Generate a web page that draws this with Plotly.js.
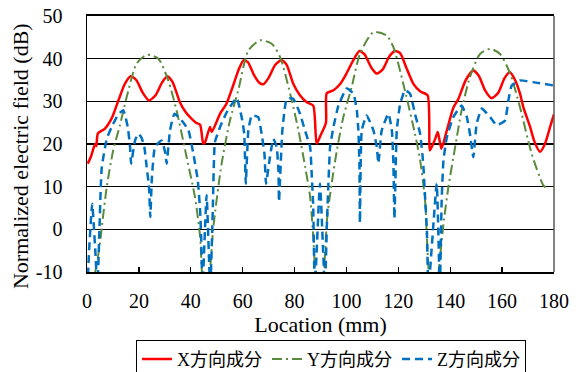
<!DOCTYPE html>
<html>
<head>
<meta charset="utf-8">
<script src="https://cdn.plot.ly/plotly-3.0.1.min.js"></script>
<style>html,body{margin:0;padding:0;background:#fff;}#chart{width:582px;height:372px;}</style>
</head>
<body>
<div id="chart"></div>
<script>
// ---- data ----
const seriesNames = ["X方向成分", "Y方向成分", "Z方向成分"];

const xLocX = [0.3,1.5,2.5,3.2,3.6,4.2,6.9,9.5,12.1,14.5,16.8,19,21.5,23.9,26.5,29,31,33,35.8,38,39.7,42,43.6,44.8,45.5,47.4,48.1,51.3,53.8,56.5,58.5,60.3,62,64.5,66.5,68,70,72.5,75,77,79.5,82,84.7,87.2,88.5,90,92.1,92.4,95,97.5,100,102.5,105,107,109.5,111.7,114,116.5,118.7,120.7,123,125.8,128.5,131.3,132.2,134.2,135.2,136.6,138.7,141.2,143.1,146,148.9,151,153.5,156,158.5,161,163,165,166.9,168.2,170.8,172.5,174.6,176.5,178.5,180];
const xVal = [15.4,17,19,20,19.5,22.5,23.6,26,30.2,34,35.9,35,32,30.2,31.5,34.5,35.9,34.5,29.8,27.5,26.3,25,24.5,20.1,20.4,24,22.8,27.1,29.5,34,37.5,39.6,39.2,36,34.3,34,35.5,38.5,39.7,38.5,34.1,31.5,29.8,29,20.1,22,25,31.9,32.6,34,36.5,39.5,41.8,41,38,36.5,37.5,40.5,41.8,41.3,38,34.1,32.3,31.4,18.5,21.2,22.8,18.9,23.2,28.5,30.5,35,37.2,36,32.5,30.7,32,35.5,36.8,35,31.8,28.6,24,20.5,18.2,20,24,27];

const yLocY = [1,3.5,5,5.7,7.6,10.1,12.7,15.3,19.1,23,27.5,31.3,34.5,38.4,41.6,43.6,44.5,46,47.5,48.7,51.9,55.1,58.3,62.2,66.7,71.2,74.4,78.3,81.5,84.1,86,87.2,88.2,90,91.5,92.6,94.3,96.3,98.8,102,105.2,110.4,115.5,118.1,122,126.4,128.4,130.3,131,132,134,136,137.4,139.3,141.9,144.4,147.6,151.5,155.4,159.2,163.1,166.9,171.4,175.9,177];
const yVal = [-16,-9,-3.3,0.5,9.9,18.5,24.4,31,38.8,40.9,40,34.9,27.9,16.9,7.6,-1.8,-12,-18,-9,0.5,15.4,25.5,32.6,41.9,44.3,43.5,40.4,31.8,23.2,14.6,7.6,-1.8,-12,-18,-8,2.9,10.7,18.5,26.3,33.3,41.1,46.2,45.4,42.7,33.9,22.4,16.2,6.8,-1.8,-12,-18,-7,1.3,9.9,19.3,27.9,35.7,41.1,42.3,41.1,36.5,28.6,17.7,10.3,9.7];

const zLocZ = [0.2,0.8,2,3.2,4,4.8,5.3,5.7,7.6,9.5,12,14,15.7,16.6,17,18.5,19.8,21,22.1,23,23.9,24.4,25,26.2,28.8,30.1,30.7,32,33.7,36.5,39.1,41,42.7,43.6,44,44.5,46.1,47.5,48.5,49.3,51.3,53.9,57.7,59.6,60.6,61.2,62.2,63.5,66,67.3,68.4,69,70.5,71.8,73.1,73.8,74,75.3,77,79.5,82.1,84,86,86.6,87.2,87.8,89.8,91.7,92.5,93,93.7,95,96.9,100.1,102.7,104,104.6,105,105.2,105.9,107.8,110.4,111.7,112.3,113.6,116.2,117.5,118.1,118.5,119.4,120.7,122.6,124.5,126.4,128.4,129.6,130.3,131,131.6,134.8,136,136.7,137.4,138.7,141.2,144.4,146.4,147.6,148.9,150.2,152.2,155.4,157.9,161.1,162.4,163.7,166.9,172,180];
const zVal = [-14,-5,6,-5,-14,0,9.9,14.6,21.2,24,26.9,27.9,24,19.3,15.4,20.8,22.4,21.5,19.3,14.6,9.9,2.9,12,19.3,20.8,18.1,15.4,23.2,27.1,25.5,23.2,17.7,11.5,4.4,-1.8,-14,8,-14,5,20.4,24,27.5,30.8,26.3,22.4,10.7,23.2,26.7,26.3,22.4,17.7,10.7,16.9,21.2,19.3,13.8,6.5,23.2,30.6,30.6,27.1,23.2,19.3,13,5.2,-14,10.7,-14,2,9.9,19.3,24,29,33,31.8,27.9,23.2,15.4,1.5,23.2,26.7,23.2,19.3,15.5,23.2,27.1,23.2,15.4,2.5,23.2,29.4,32.6,31.8,27.1,22.4,15.4,7.6,-0.2,-14,10.7,-14,6.8,16.2,21.6,26.3,29,26.3,22.4,16.9,24.8,28.3,26.3,24.4,25.5,30.2,33.7,34.9,34.5,33.7];

const xTickVals = [0,20,40,60,80,100,120,140,160,180];
const yTickVals = [-10,0,10,20,30,40,50];
const xTitle = 'Location (mm)';
const yTitle = 'Normalized electric field (dB)';

const FONT = "Liberation Serif, Noto Sans CJK JP, serif";

const traces = [
  {x: xLocX, y: xVal, name: seriesNames[0], mode: 'lines',
   line: {color: '#FF0000', width: 2.5, shape: 'spline', smoothing: 0.6}},
  {x: yLocY, y: yVal, name: seriesNames[1], mode: 'lines',
   line: {color: '#5A8A3C', width: 2, dash: '10px,4px,2px,4px', shape: 'spline', smoothing: 0.7}},
  {x: zLocZ, y: zVal, name: seriesNames[2], mode: 'lines',
   line: {color: '#0070C0', width: 2.5, dash: '8px,5px', shape: 'spline', smoothing: 0.4}}
];

const layout = {
  width: 582, height: 372,
  margin: {l: 87, r: 28, t: 16, b: 100, autoexpand: false},
  paper_bgcolor: '#fff', plot_bgcolor: '#fff',
  font: {family: FONT, size: 20, color: '#000'},
  showlegend: true,
  legend: {
    orientation: 'h', x: 0.5225, xanchor: 'center', y: -0.265, yanchor: 'top',
    bordercolor: '#000', borderwidth: 1, font: {family: FONT, size: 18, color: '#000'}
  },
  xaxis: {
    range: [0, 180], tickvals: xTickVals, ticktext: xTickVals.map(String),
    showgrid: false, zeroline: false, showline: true, linecolor: '#000', linewidth: 2, mirror: true,
    ticks: 'inside', ticklen: 5, tickwidth: 1.3, tickcolor: '#000', ticklabelstandoff: 10,
    tickfont: {family: FONT, size: 20, color: '#000'},
    title: {text: xTitle, font: {family: FONT, size: 22, color: '#000'}, standoff: 6}
  },
  yaxis: {
    range: [-10, 50], tickvals: yTickVals, ticktext: yTickVals.map(String),
    showgrid: true, gridcolor: '#000', gridwidth: 1.3, zeroline: false,
    showline: true, linecolor: '#000', linewidth: 1.5, ticks: '', ticklabelstandoff: 19,
    tickfont: {family: FONT, size: 20, color: '#000'}
  },
  annotations: [{
    text: yTitle, xref: 'paper', yref: 'paper', x: -0.1435, y: 0.453,
    xanchor: 'center', yanchor: 'middle', textangle: -90, showarrow: false,
    font: {family: FONT, size: 22, color: '#000'}
  }],
  shapes: [{type: 'line', xref: 'paper', yref: 'paper', x0: 1, x1: 1, y0: 0, y1: 1,
            line: {color: '#595959', width: 1.5}}]
};

Plotly.newPlot('chart', traces, layout, {displayModeBar: false, staticPlot: true});
</script>
</body>
</html>
